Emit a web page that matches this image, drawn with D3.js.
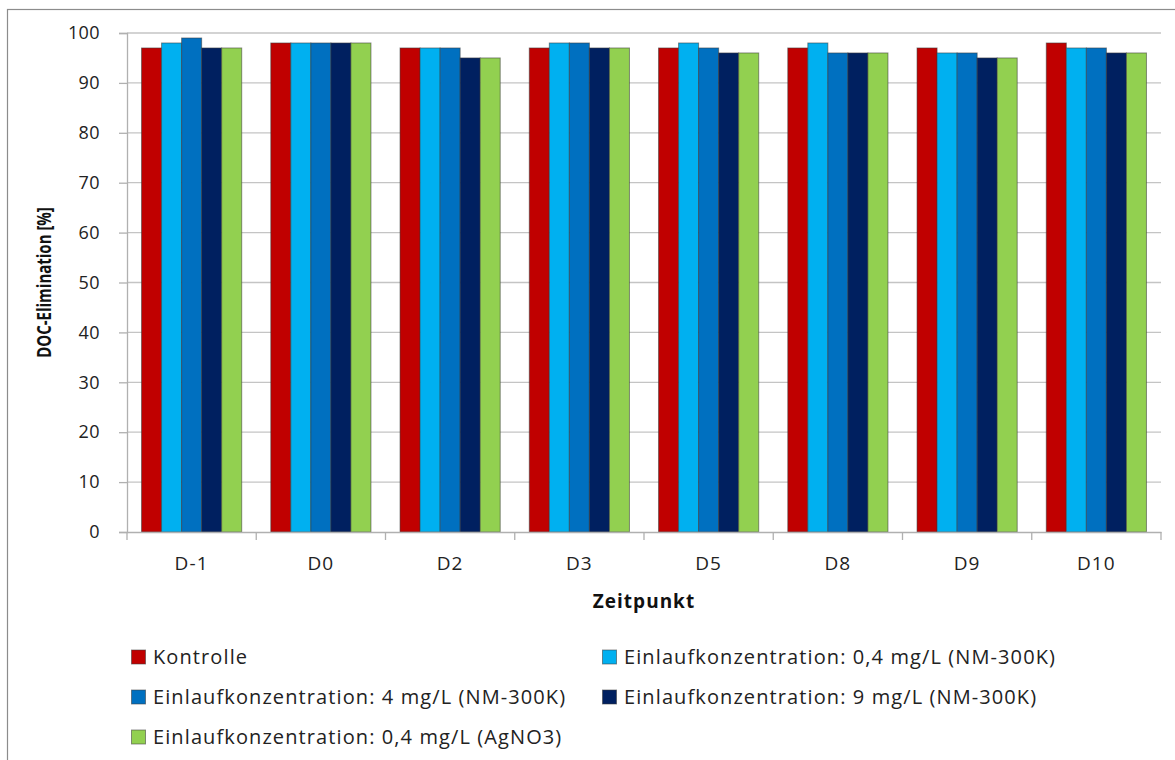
<!DOCTYPE html>
<html>
<head>
<meta charset="utf-8">
<script src="https://cdn.jsdelivr.net/npm/d3@7"></script>
<style>
  html, body { margin: 0; padding: 0; background: #fff; }
  svg { display: block; font-family: "Open Sans", "Noto Sans", sans-serif; }
</style>
</head>
<body>
<svg id="chart" width="1175" height="760"></svg>
<script>
// Zeitpunkte (Kategorien)
const categories = ["D-1", "D0", "D2", "D3", "D5", "D8", "D9", "D10"];

// Serien
const seriesNames = [
  "Kontrolle",
  "Einlaufkonzentration: 0,4 mg/L (NM-300K)",
  "Einlaufkonzentration: 4 mg/L (NM-300K)",
  "Einlaufkonzentration: 9 mg/L (NM-300K)",
  "Einlaufkonzentration: 0,4 mg/L (AgNO3)"
];
const seriesColors = ["#C00000", "#00B0F0", "#0070C0", "#002060", "#92D050"];

// DOC-Elimination [%] je Serie und Zeitpunkt
const kontrolle = [97, 98, 97, 97, 97, 97, 97, 98];
const nm04      = [98, 98, 97, 98, 98, 98, 96, 97];
const nm4       = [99, 98, 97, 98, 97, 96, 96, 97];
const nm9       = [97, 98, 95, 97, 96, 96, 95, 96];
const agno3     = [97, 98, 95, 97, 96, 96, 95, 96];
const seriesValues = [kontrolle, nm04, nm4, nm9, agno3];

const yTicks = [0, 10, 20, 30, 40, 50, 60, 70, 80, 90, 100];

const svg = d3.select("#chart");

// Rahmen des Diagrammbereichs
svg.append("rect")
  .attr("x", 7.5).attr("y", 9.5)
  .attr("width", 1200).attr("height", 800)
  .attr("fill", "none").attr("stroke", "#8c8c8c").attr("stroke-width", 1.2);

const plot = { left: 127, right: 1161, top: 33, bottom: 532 };

const x = d3.scaleBand()
  .domain(categories)
  .range([plot.left, plot.right])
  .paddingInner(0.225)
  .paddingOuter(0.1125);

const xSub = d3.scaleBand()
  .domain(d3.range(seriesNames.length))
  .range([0, x.bandwidth()]);

const y = d3.scaleLinear().domain([0, 100]).range([plot.bottom, plot.top]);

// Gitternetzlinien
svg.append("g")
  .selectAll("line")
  .data(yTicks.filter(t => t > 0))
  .join("line")
  .attr("x1", plot.left).attr("x2", plot.right)
  .attr("y1", d => y(d)).attr("y2", d => y(d))
  .attr("stroke", "#c4c4c4").attr("stroke-width", 1.3);

// Balken
const groups = svg.append("g")
  .selectAll("g")
  .data(categories)
  .join("g")
  .attr("transform", d => `translate(${x(d)},0)`);

groups.selectAll("rect")
  .data((c, i) => seriesValues.map((vals, s) => ({ s, v: vals[i] })))
  .join("rect")
  .attr("x", d => xSub(d.s))
  .attr("width", xSub.bandwidth())
  .attr("y", d => y(d.v))
  .attr("height", d => y(0) - y(d.v))
  .attr("fill", d => seriesColors[d.s])
  .attr("stroke", "#3a3a3a").attr("stroke-opacity", 0.55).attr("stroke-width", 1);

// Y-Achse
const yAxis = svg.append("g")
  .attr("transform", `translate(${plot.left},0)`)
  .call(d3.axisLeft(y).tickValues(yTicks).tickSize(8).tickPadding(19));
yAxis.select(".domain").attr("stroke", "#b0b0b0").attr("stroke-width", 1.3);
yAxis.selectAll(".tick line").attr("stroke", "#b0b0b0").attr("stroke-width", 1.3);
yAxis.selectAll(".tick text")
  .attr("font-size", 18).attr("fill", "#222")
  .attr("letter-spacing", 0.4)
  .attr("font-family", "'Open Sans', sans-serif");

// X-Achse
const xAxis = svg.append("g")
  .attr("transform", `translate(0,${plot.bottom})`)
  .call(d3.axisBottom(x).tickSize(0).tickPadding(25));
xAxis.select(".domain").attr("stroke", "#b0b0b0").attr("stroke-width", 1.3);
xAxis.selectAll(".tick text")
  .attr("font-size", 19).attr("fill", "#222")
  .attr("letter-spacing", 1.1)
  .attr("font-family", "'Open Sans', sans-serif");

// Trennstriche zwischen den Kategorien
const boundaries = d3.range(categories.length + 1).map(i => plot.left + i * (plot.right - plot.left) / categories.length);
svg.append("g")
  .selectAll("line")
  .data(boundaries)
  .join("line")
  .attr("x1", d => d).attr("x2", d => d)
  .attr("y1", plot.bottom).attr("y2", plot.bottom + 8)
  .attr("stroke", "#b0b0b0").attr("stroke-width", 1.3);

// Achsentitel
svg.append("text")
  .attr("transform", `translate(51,${(plot.top + plot.bottom) / 2}) rotate(-90) scale(1,1.3)`)
  .attr("text-anchor", "middle")
  .attr("font-size", 15).attr("font-weight", "bold").attr("fill", "#111")
  .text("DOC-Elimination [%]");

svg.append("text")
  .attr("x", (plot.left + plot.right) / 2).attr("y", 608)
  .attr("text-anchor", "middle")
  .attr("font-size", 19).attr("font-weight", "bold").attr("fill", "#111")
  .attr("letter-spacing", 1)
  .text("Zeitpunkt");

// Legende
const legendPos = [
  { x: 131, y: 657 }, { x: 602, y: 657 },
  { x: 131, y: 697 }, { x: 602, y: 697 },
  { x: 131, y: 737 }
];
const legend = svg.append("g")
  .selectAll("g")
  .data(seriesNames)
  .join("g")
  .attr("transform", (d, i) => `translate(${legendPos[i].x},${legendPos[i].y})`);

legend.append("rect")
  .attr("x", 0.5).attr("y", -7)
  .attr("width", 14).attr("height", 14)
  .attr("fill", (d, i) => seriesColors[i])
  .attr("stroke", "#3a3a3a").attr("stroke-opacity", 0.55).attr("stroke-width", 1);

legend.append("text")
  .attr("x", 22).attr("y", 0)
  .attr("dy", "0.35em")
  .attr("font-size", 20).attr("fill", "#222")
  .attr("letter-spacing", 1.1)
  .text(d => d);
</script>
</body>
</html>
